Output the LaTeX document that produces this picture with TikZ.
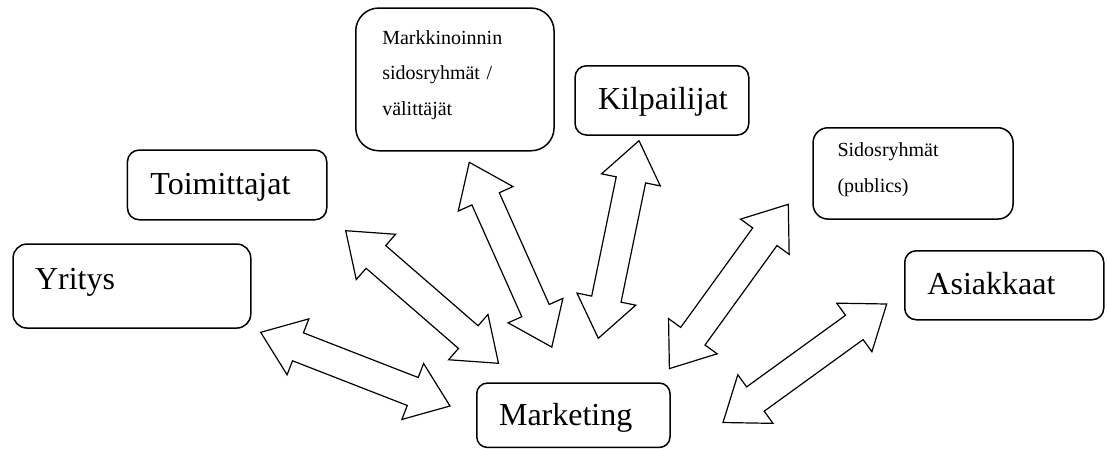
\documentclass[tikz,border=0pt]{standalone}
\usepackage{fontspec}
\setmainfont{Liberation Serif}
\usetikzlibrary{calc}
\tikzset{
  box/.style={draw, line width=1.5pt, anchor=north west, inner ysep=0pt, align=left},
  big/.style={font=\fontsize{32}{40}\selectfont},
  small/.style={font=\fontsize{20}{35.5}\selectfont},
  flow/.style={draw, line width=1.2pt, line join=miter, fill=white}
}
\newcommand\twoway[2]{%
  \draw[flow] (#1)
    -- ($(#1)!40pt!(#2)!30pt!90:(#2)$) -- ($(#1)!40pt!(#2)!15pt!90:(#2)$)
    -- ($(#2)!40pt!(#1)!15pt!-90:(#1)$) -- ($(#2)!40pt!(#1)!30pt!-90:(#1)$)
    -- (#2)
    -- ($(#2)!40pt!(#1)!30pt!90:(#1)$) -- ($(#2)!40pt!(#1)!15pt!90:(#1)$)
    -- ($(#1)!40pt!(#2)!15pt!-90:(#2)$) -- ($(#1)!40pt!(#2)!30pt!-90:(#2)$)
    -- cycle;}
\begin{document}
\begin{tikzpicture}[x=1pt, y=-1pt]
  \useasboundingbox (0,0) rectangle (1109,448);
  \node[box, big, rounded corners=14pt, inner xsep=22pt, text width=193.7pt,
    text height=45pt, text depth=39pt] (yritys) at (12.3,243.3) {Yritys};
  \node[box, big, rounded corners=11.7pt, inner xsep=23pt, text width=153.3pt,
    text height=44pt, text depth=25.7pt] (toimittajat) at (126.7,149.3) {Toimittajat};
  \node[box, small, rounded corners=23pt, inner xsep=26.5pt, text width=145.3pt,
    text height=36pt, text depth=106.7pt] (valittajat) at (355,7.3)
    {Markkinoinnin\\sidosryhmät /\\välittäjät};
  \node[box, big, rounded corners=11.5pt, inner xsep=23pt, text width=127.7pt,
    text height=43.3pt, text depth=26pt] (kilpailijat) at (574.3,65) {Kilpailijat};
  \node[box, small, rounded corners=15pt, inner xsep=24.5pt, text width=151pt,
    text height=29pt, text depth=62.3pt] (sidosryhmat) at (812.3,127)
    {Sidosryhmät\\(publics)};
  \node[box, big, rounded corners=11.5pt, inner xsep=22.7pt, text width=153.6pt,
    text height=43.3pt, text depth=25.7pt] (asiakkaat) at (904,250) {Asiakkaat};
  \node[box, big, rounded corners=10.7pt, inner xsep=22.3pt, text width=148.7pt,
    text height=42.7pt, text depth=21.7pt] (marketing) at (476,382.3) {Marketing};

  \coordinate (y1) at (260.7,332.3);  \coordinate (y2) at (450,406);
  \coordinate (t1) at (345.7,230.7);  \coordinate (t2) at (498.5,363.3);
  \coordinate (v1) at (469.3,162.3);  \coordinate (v2) at (551.8,347.1);
  \coordinate (k1) at (639,140.7);    \coordinate (k2) at (598.3,338.3);
  \coordinate (s1) at (788.3,204.3);  \coordinate (s2) at (669.4,368.6);
  \coordinate (a1) at (886.7,304);    \coordinate (a2) at (723,422.5);
  \twoway{y1}{y2}
  \twoway{t1}{t2}
  \twoway{v1}{v2}
  \twoway{k1}{k2}
  \twoway{s1}{s2}
  \twoway{a1}{a2}
\end{tikzpicture}
\end{document}
